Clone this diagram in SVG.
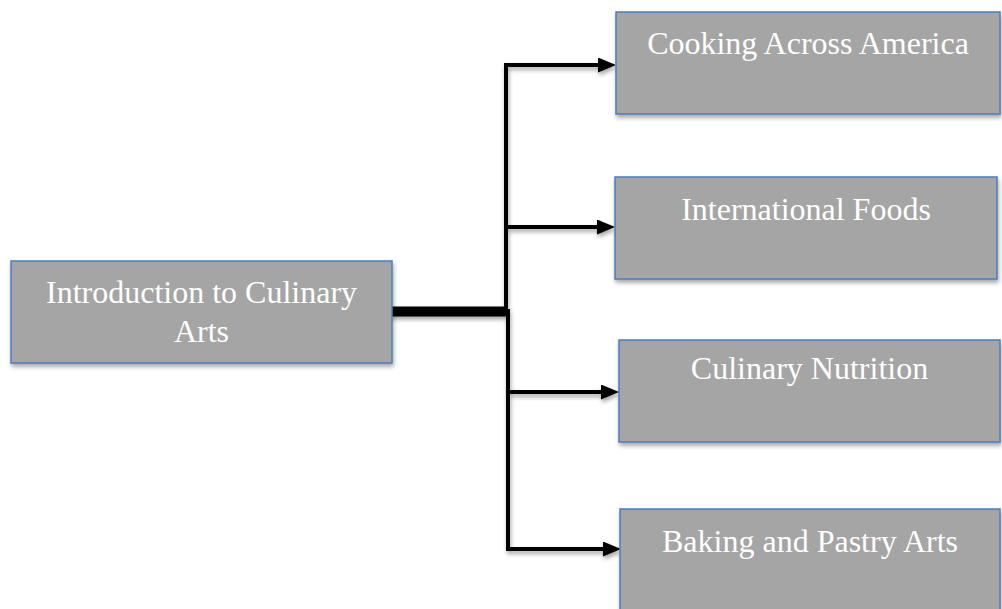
<svg xmlns="http://www.w3.org/2000/svg" width="1002" height="609" viewBox="0 0 1002 609">
<defs>
<filter id="sh" x="-10%" y="-10%" width="120%" height="130%">
<feDropShadow dx="1" dy="3" stdDeviation="2" flood-color="#000" flood-opacity="0.35"/>
</filter>
<marker id="ah" markerWidth="18" markerHeight="15" refX="0" refY="7.5" orient="auto" markerUnits="userSpaceOnUse">
<path d="M0,0 L18,7.5 L0,15 Z" fill="#000"/>
</marker>
<style>
.box{fill:#a5a5a5;stroke:#4a7ebb;stroke-width:1.5;filter:url(#sh)}
.lbl{font-family:"Liberation Serif","Times New Roman",serif;font-size:32px;fill:#fff;text-anchor:middle}
.ln{fill:none;stroke:#000;stroke-width:4;stroke-linecap:square}
</style>
</defs>
<g id="connectors" filter="url(#sh)">
<path d="M390,311.5 H506" stroke="#000" stroke-width="10" fill="none"/>
<path class="ln" d="M506,311 V65"/>
<path class="ln" d="M508,311 V549"/>
<path class="ln" d="M506,65 H598" marker-end="url(#ah)"/>
<path class="ln" d="M506,227 H597" marker-end="url(#ah)"/>
<path class="ln" d="M508,392 H601" marker-end="url(#ah)"/>
<path class="ln" d="M508,549 H603" marker-end="url(#ah)"/>
</g>
<g id="intro">
<rect class="box" x="11" y="261" width="381" height="102"/>
<text class="lbl" x="201.5" y="303">Introduction to Culinary</text>
<text class="lbl" x="201.5" y="342">Arts</text>
</g>
<g id="cooking">
<rect class="box" x="616" y="12" width="384" height="102"/>
<text class="lbl" x="808" y="54">Cooking Across America</text>
</g>
<g id="international">
<rect class="box" x="615" y="177" width="382" height="102"/>
<text class="lbl" x="806" y="220">International Foods</text>
</g>
<g id="nutrition">
<rect class="box" x="619" y="340" width="381" height="102"/>
<text class="lbl" x="809.5" y="379">Culinary Nutrition</text>
</g>
<g id="baking">
<rect class="box" x="620" y="509" width="380" height="110"/>
<text class="lbl" x="810" y="552">Baking and Pastry Arts</text>
</g>
</svg>
